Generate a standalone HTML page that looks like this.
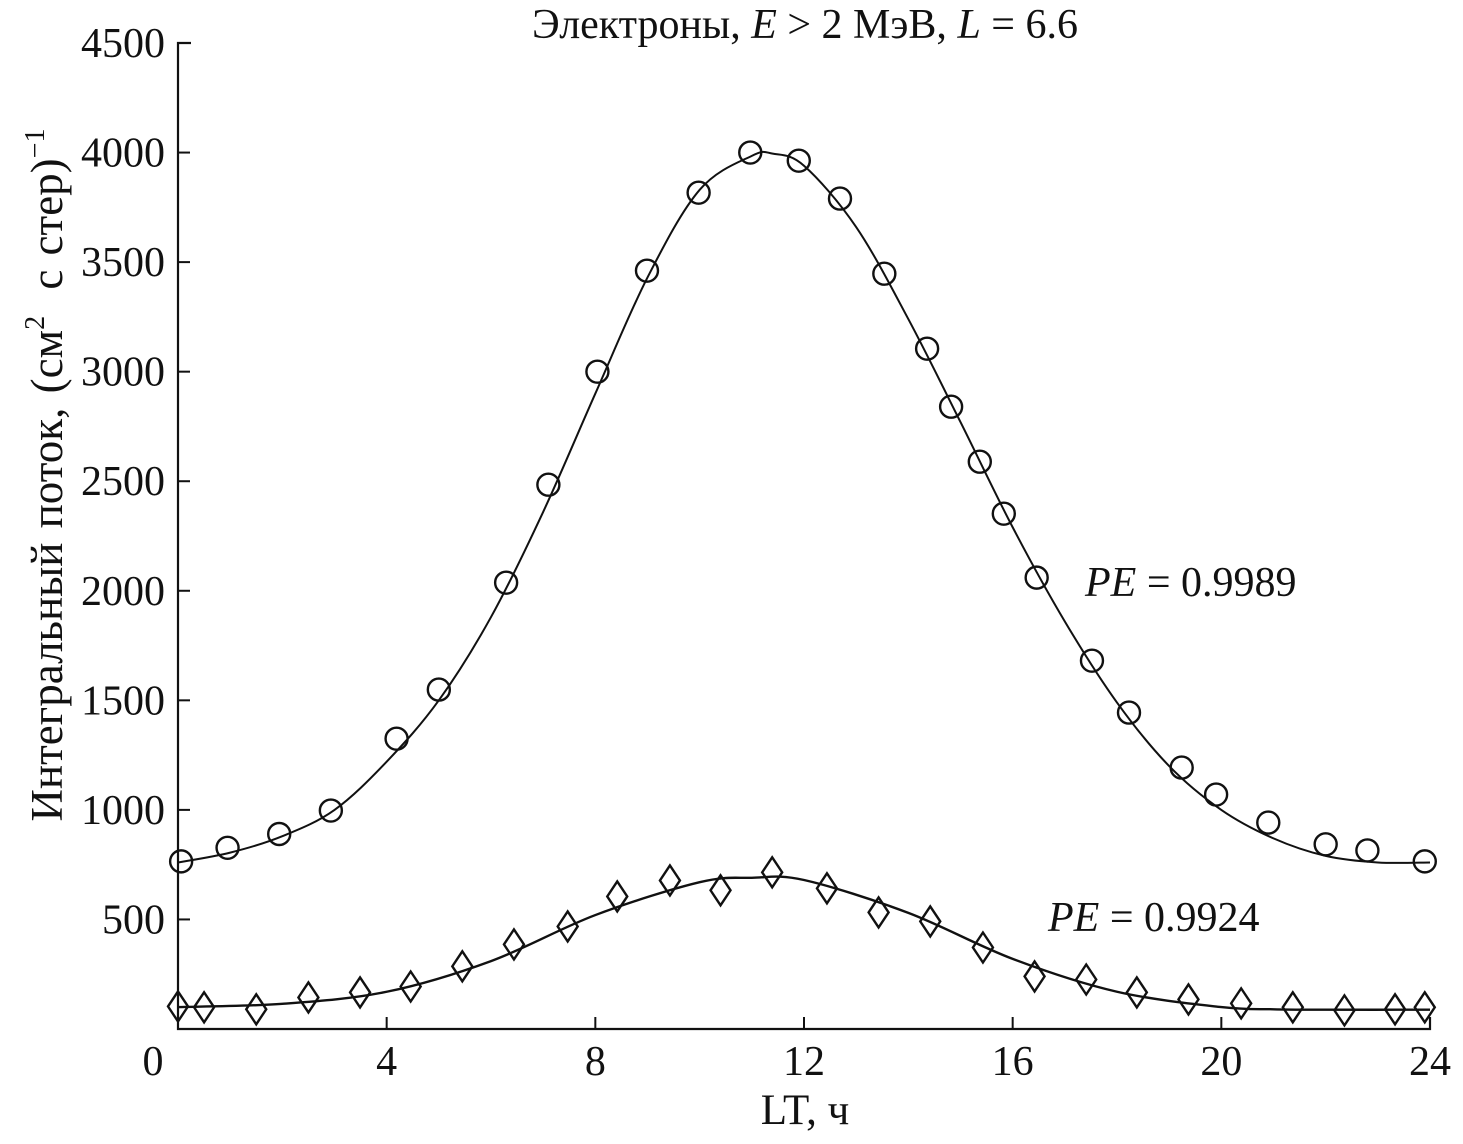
<!DOCTYPE html>
<html><head><meta charset="utf-8">
<style>
html,body{margin:0;padding:0;background:#fff;}
svg text{font-family:"Liberation Serif",serif;fill:#111;}
</style></head>
<body>
<svg id="chart" width="1463" height="1139" viewBox="0 0 1463 1139" xmlns="http://www.w3.org/2000/svg">
<text x="805" y="38" font-size="42" text-anchor="middle">Электроны, <tspan font-style="italic">E</tspan> &gt; 2 МэВ, <tspan font-style="italic">L</tspan> = 6.6</text>
<text transform="translate(62,475) rotate(-90)" font-size="45" text-anchor="middle" word-spacing="3">Интегральный поток, (см<tspan font-size="28" dy="-18">2</tspan><tspan dy="18" dx="12"> с стер)</tspan><tspan font-size="28" dy="-18">−1</tspan></text>
<text x="805" y="1124" font-size="43" text-anchor="middle">LT, ч</text>
<text x="1085" y="596" font-size="42"><tspan font-style="italic">PE</tspan> = 0.9989</text>
<text x="1048" y="931" font-size="42"><tspan font-style="italic">PE</tspan> = 0.9924</text>
<g id="axes"></g>
<g id="marks"></g>
</svg>
<script>
const xTicks=[0,4,8,12,16,20,24];
const yTicks=[500,1000,1500,2000,2500,3000,3500,4000,4500];
const circleHours=[0.06,0.95,1.94,2.93,4.19,5.0,6.29,7.1,8.04,8.99,9.98,10.97,11.9,12.69,13.54,14.36,14.82,15.37,15.83,16.46,17.52,18.23,19.24,19.9,20.9,22.0,22.8,23.9];
const circleValues=[765,827,890,997,1325,1549,2037,2484,3000,3461,3817,4000,3963,3790,3447,3105,2840,2589,2352,2060,1681,1444,1193,1070,942,843,815,765];
const diamondHours=[0,0.5,1.5,2.5,3.49,4.46,5.45,6.44,7.47,8.42,9.43,10.4,11.39,12.44,13.43,14.42,15.43,16.42,17.41,18.38,19.37,20.38,21.37,22.36,23.33,23.9];
const diamondValues=[103,99,90,144,167,194,286,386,468,605,678,633,715,642,532,491,372,240,226,167,135,117,99,85,90,99];
const fitUpperHours=[0,1,2,3,4,5,6,7,8,9,10,11,11.4,12,13,14,15,16,17,18,19,20,21,22,23,24];
const fitUpperValues=[760,805,880,1000,1220,1500,1880,2360,2900,3430,3830,3985,3995,3940,3660,3240,2770,2290,1860,1490,1200,1000,870,790,760,760];
const fitLowerHours=[0,2,4,6,8,10,11,12,14,16,18,20,21,22,24];
const fitLowerValues=[100,115,170,310,520,670,690,680,530,320,170,100,90,88,88];

const X0=178,X1=1430,Y0=1029,Y1=43;
const xs=h=>X0+(X1-X0)*h/24;
const ys=v=>Y0-(Y0-Y1)*v/4500;
const NS="http://www.w3.org/2000/svg";
const axes=document.getElementById('axes'),marks=document.getElementById('marks');
function mk(tag,attrs,parent){const e=document.createElementNS(NS,tag);for(const k in attrs)e.setAttribute(k,attrs[k]);parent.appendChild(e);return e;}

let e=mk('path',{d:`M${X0+13},${Y1}H${X0}V${Y0}H${X1}V${Y0-12}`,fill:'none',stroke:'#111','stroke-width':2.2},axes);


xTicks.forEach(t=>{
  const x=xs(t);
  if(t>0&&t<24){const l=mk('line',{x1:x,x2:x,y1:Y0,y2:Y0-12,stroke:'#111','stroke-width':2},axes);
  
  }
  const tx=mk('text',{x:t===0?153:x,y:Y0+46,'font-size':42,'text-anchor':'middle'},axes);
  tx.textContent=t;
  
  
});
yTicks.forEach(t=>{
  const y=ys(t);
  if(t<4500){const l=mk('line',{x1:X0,x2:X0+12,y1:y,y2:y,stroke:'#111','stroke-width':2},axes);
  
  }
  const tx=mk('text',{x:165,y:y+14,'font-size':42,'text-anchor':'end'},axes);
  tx.textContent=t;
  
  
});
function smooth(hs,vs){
  const p=hs.map((h,i)=>[xs(h),ys(vs[i])]);
  let d=`M${p[0][0]},${p[0][1]}`;
  for(let i=0;i<p.length-1;i++){
    const a=p[Math.max(0,i-1)],b=p[i],c=p[i+1],n=p[Math.min(p.length-1,i+2)];
    d+=` C${b[0]+(c[0]-a[0])/6},${b[1]+(c[1]-a[1])/6} ${c[0]-(n[0]-b[0])/6},${c[1]-(n[1]-b[1])/6} ${c[0]},${c[1]}`;
  }
  return d;
}
e=mk('path',{d:smooth(fitUpperHours,fitUpperValues),fill:'none',stroke:'#111','stroke-width':2},marks);


e=mk('path',{d:smooth(fitLowerHours,fitLowerValues),fill:'none',stroke:'#111','stroke-width':2.4},marks);


circleHours.forEach((h,i)=>{
  const c=mk('circle',{cx:xs(h),cy:ys(circleValues[i]),r:11,fill:'none',stroke:'#111','stroke-width':2.4},marks);
  
  
});
diamondHours.forEach((h,i)=>{
  const x=xs(h),y=ys(diamondValues[i]);
  const p=mk('polygon',{points:`${x},${y-15} ${x+10},${y} ${x},${y+15} ${x-10},${y}`,fill:'none',stroke:'#111','stroke-width':2.4},marks);
  
  
});
</script>
</body></html>
